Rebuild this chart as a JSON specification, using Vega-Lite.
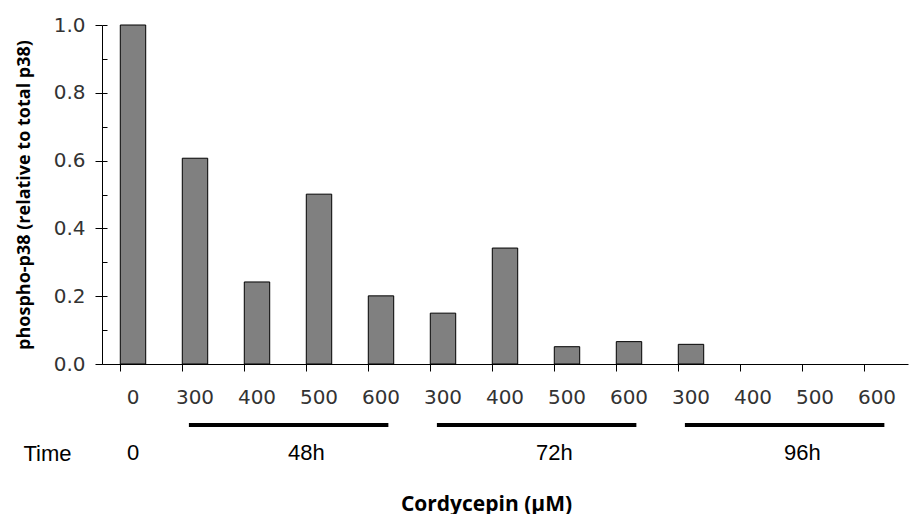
{
  "$schema": "https://vega.github.io/schema/vega-lite/v6.json",
  "padding": {"left": 15, "top": 15, "right": 2, "bottom": 0},
  "background": "white",
  "config": {"view": {"stroke": null}},
  "spacing": 4,
  "datasets": {
    "bars": [
      {"key": "0", "dose": "0", "value": 1.0},
      {"key": "300_48", "dose": "300", "value": 0.607},
      {"key": "400_48", "dose": "400", "value": 0.242},
      {"key": "500_48", "dose": "500", "value": 0.501},
      {"key": "600_48", "dose": "600", "value": 0.201},
      {"key": "300_72", "dose": "300", "value": 0.150},
      {"key": "400_72", "dose": "400", "value": 0.342},
      {"key": "500_72", "dose": "500", "value": 0.051},
      {"key": "600_72", "dose": "600", "value": 0.066},
      {"key": "300_96", "dose": "300", "value": 0.058},
      {"key": "400_96", "dose": "400", "value": 0},
      {"key": "500_96", "dose": "500", "value": 0},
      {"key": "600_96", "dose": "600", "value": 0}
    ],
    "groups": [
      {"time": "48h", "start": "300_48", "end": "600_48", "mid": "500_48", "row": "line"},
      {"time": "72h", "start": "300_72", "end": "600_72", "mid": "500_72", "row": "line"},
      {"time": "96h", "start": "300_96", "end": "600_96", "mid": "500_96", "row": "line"}
    ],
    "labels": [
      {"time": "48h", "mid": "500_48", "row": "Time"},
      {"time": "72h", "mid": "500_72", "row": "Time"},
      {"time": "96h", "mid": "500_96", "row": "Time"}
    ],
    "zero": [
      {"time": "0", "key": "0", "row": "Time"}
    ]
  },
  "vconcat": [
    {
      "width": 806,
      "height": 339,
      "data": {"name": "bars"},
      "layer": [
        {
          "mark": {"type": "bar", "fill": "#808080", "stroke": "#000000", "strokeWidth": 1},
          "encoding": {
            "x": {
              "field": "key", "type": "nominal", "sort": null,
              "scale": {"domain": ["0","300_48","400_48","500_48","600_48","300_72","400_72","500_72","600_72","300_96","400_96","500_96","600_96"], "paddingInner": 0.59, "paddingOuter": 0.295},
              "axis": {
                "title": null, "labelAngle": 0, "bandPosition": 0,
                "labelExpr": "split(datum.value, '_')[0]",
                "labelFont": "DejaVu Sans", "labelFontSize": 20, "labelColor": "#333333",
                "labelPadding": 16, "tickSize": 7, "tickColor": "#000000",
                "domainColor": "#000000", "grid": false
              }
            },
            "y": {
              "field": "value", "type": "quantitative",
              "scale": {"domain": [0, 1], "nice": false},
              "axis": {
                "title": "phospho-p38 (relative to total p38)",
                "titleFont": "Open Sans", "titleFontWeight": "bold", "titleFontSize": 18, "titleColor": "#000000",
                "titlePadding": 20,
                "values": [0, 0.2, 0.4, 0.6, 0.8, 1.0], "format": ".1f",
                "labelFont": "DejaVu Sans", "labelFontSize": 20, "labelColor": "#333333",
                "labelPadding": 10, "tickSize": 7, "tickColor": "#000000",
                "domainColor": "#000000", "grid": false
              }
            },
            "strokeOpacity": {"condition": {"test": "datum.value == 0", "value": 0}, "value": 1},
            "fillOpacity": {"condition": {"test": "datum.value == 0", "value": 0}, "value": 1}
          }
        },
        {
          "mark": {"type": "bar", "opacity": 0},
          "encoding": {
            "x": {"field": "key", "type": "nominal", "sort": null},
            "y": {
              "field": "value", "type": "quantitative",
              "axis": {
                "orient": "left", "title": null, "labels": false, "domain": false, "grid": false,
                "values": [0, 0.1, 0.2, 0.3, 0.4, 0.5, 0.6, 0.7, 0.8, 0.9, 1.0],
                "tickSize": -5, "tickColor": "#000000"
              }
            }
          }
        }
      ],
      "resolve": {"axis": {"y": "independent"}}
    },
    {
      "width": 806,
      "height": 56,
      "layer": [
        {
          "data": {"name": "groups"},
          "mark": {"type": "rule", "strokeWidth": 4, "color": "#000000"},
          "encoding": {
            "x": {
              "field": "start", "type": "nominal", "bandPosition": 0.26,
              "scale": {"domain": ["0","300_48","400_48","500_48","600_48","300_72","400_72","500_72","600_72","300_96","400_96","500_96","600_96"], "paddingInner": 0.59, "paddingOuter": 0.295},
              "axis": {
                "labels": false, "ticks": false, "domain": false, "grid": false,
                "title": "Cordycepin (μM)", "titleFont": "Open Sans", "titleFontWeight": "bold",
                "titleFontSize": 21, "titleColor": "#000000", "titlePadding": 26, "titleX": 384
              }
            },
            "x2": {"field": "end", "bandPosition": 0.79},
            "y": {
              "field": "row", "type": "nominal",
              "scale": {"type": "point", "domain": ["line", "Time"], "padding": 0.5},
              "axis": {
                "title": null, "ticks": false, "domain": false, "grid": false,
                "labelExpr": "datum.value == 'Time' ? 'Time' : ''",
                "labelFont": "Liberation Sans", "labelFontSize": 22, "labelColor": "#000000",
                "labelPadding": 31
              }
            }
          }
        },
        {
          "data": {"name": "labels"},
          "mark": {"type": "text", "font": "Liberation Sans", "fontSize": 22, "color": "#000000", "baseline": "middle", "align": "center"},
          "encoding": {
            "x": {"field": "mid", "type": "nominal", "bandPosition": 0},
            "y": {"field": "row", "type": "nominal"},
            "text": {"field": "time"}
          }
        },
        {
          "data": {"name": "zero"},
          "mark": {"type": "text", "font": "Liberation Sans", "fontSize": 22, "color": "#000000", "baseline": "middle", "align": "center"},
          "encoding": {
            "x": {"field": "key", "type": "nominal"},
            "y": {"field": "row", "type": "nominal"},
            "text": {"field": "time"}
          }
        }
      ]
    }
  ]
}
